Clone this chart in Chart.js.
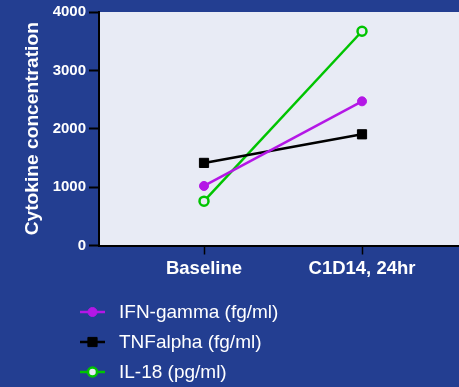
<!DOCTYPE html>
<html>
<head>
<meta charset="utf-8">
<script src="https://cdn.jsdelivr.net/npm/chart.js@4/dist/chart.umd.min.js"></script>
<style>
  html, body { margin: 0; padding: 0; background: #233e91; }
  #wrap { width: 459px; height: 387px; }
</style>
</head>
<body>
<div id="wrap"><canvas id="c" width="459" height="387"></canvas></div>
<script>
// Time points and cytokine levels
const categories = ['Baseline', 'C1D14, 24hr'];
const ifnGamma = [1020, 2470];
const tnfAlpha = [1415, 1905];
const il18 = [760, 3670];
const yTicks = [0, 1000, 2000, 3000, 4000];

const FONT = '"Liberation Sans", Arial, Helvetica, sans-serif';
const BG = '#233e91';
const PLOT_BG = '#e8ebf5';

const toPoints = vals => vals.map((v, i) => ({ x: i, y: v }));

// Page and plot-area backgrounds
const backgrounds = {
  id: 'backgrounds',
  beforeDraw(chart) {
    const { ctx, chartArea: a } = chart;
    ctx.save();
    ctx.fillStyle = BG;
    ctx.fillRect(0, 0, chart.width, chart.height);
    ctx.fillStyle = PLOT_BG;
    ctx.fillRect(a.left, a.top, a.right - a.left, a.bottom - a.top);
    ctx.restore();
  }
};

// Vertical legend list under the axis
const listLegend = {
  id: 'listLegend',
  afterDraw(chart) {
    const { ctx } = chart;
    const rows = [312, 342, 372];
    ctx.save();
    chart.data.datasets.forEach((ds, i) => {
      const y = rows[i];
      ctx.strokeStyle = ds.borderColor;
      ctx.lineWidth = 2.5;
      ctx.beginPath();
      ctx.moveTo(80, y);
      ctx.lineTo(105, y);
      ctx.stroke();
      ctx.fillStyle = ds.pointBackgroundColor;
      ctx.strokeStyle = ds.pointBorderColor;
      ctx.lineWidth = ds.pointBorderWidth;
      Chart.helpers.drawPoint(ctx, {
        pointStyle: ds.pointStyle,
        radius: ds.pointRadius,
        borderWidth: ds.pointBorderWidth
      }, 92.5, y);
      ctx.fillStyle = '#ffffff';
      ctx.font = '19px ' + FONT;
      ctx.textBaseline = 'middle';
      ctx.textAlign = 'left';
      ctx.fillText(ds.label, 119, y + 1);
    });
    ctx.restore();
  }
};

new Chart(document.getElementById('c'), {
  type: 'line',
  data: {
    datasets: [
      {
        label: 'IFN-gamma (fg/ml)',
        data: toPoints(ifnGamma),
        borderColor: '#b417e6',
        borderWidth: 2.5,
        pointStyle: 'circle',
        pointRadius: 4.5,
        pointBackgroundColor: '#b417e6',
        pointBorderColor: '#b417e6',
        pointBorderWidth: 1
      },
      {
        label: 'TNFalpha (fg/ml)',
        data: toPoints(tnfAlpha),
        borderColor: '#000000',
        borderWidth: 2.5,
        pointStyle: 'rect',
        pointRadius: 6.5,
        pointBackgroundColor: '#000000',
        pointBorderColor: '#000000',
        pointBorderWidth: 1
      },
      {
        label: 'IL-18 (pg/ml)',
        data: toPoints(il18),
        borderColor: '#00c400',
        borderWidth: 2.5,
        pointStyle: 'circle',
        pointRadius: 4.5,
        pointBackgroundColor: PLOT_BG,
        pointBorderColor: '#00c400',
        pointBorderWidth: 2.5
      }
    ]
  },
  options: {
    responsive: false,
    animation: false,
    devicePixelRatio: 1,
    layout: {
      autoPadding: false,
      padding: { left: 0, right: 0, top: 11, bottom: 101.5 }
    },
    plugins: {
      legend: { display: false },
      tooltip: { enabled: false }
    },
    scales: {
      x: {
        type: 'linear',
        min: -0.6646,
        max: 1.6139,
        afterBuildTicks(scale) {
          scale.ticks = categories.map((_, i) => ({ value: i }));
        },
        afterFit(scale) {
          scale.height = 40;
          scale.paddingLeft = 0;
          scale.paddingRight = 0;
        },
        ticks: {
          callback: v => categories[v],
          color: '#ffffff',
          font: { family: FONT, size: 18.5, weight: 'bold' },
          padding: 3,
          maxRotation: 0
        },
        grid: {
          drawOnChartArea: false,
          drawTicks: true,
          tickLength: 9,
          tickColor: '#000000',
          tickWidth: 1.5
        },
        border: { display: true, color: '#000000', width: 2 }
      },
      y: {
        min: 0,
        max: 4000,
        afterBuildTicks(scale) {
          scale.ticks = yTicks.map(v => ({ value: v }));
        },
        afterFit(scale) { scale.width = 99; },
        ticks: {
          callback: v => String(v),
          color: '#ffffff',
          font: { family: FONT, size: 15, weight: 'bold' },
          padding: 3
        },
        grid: {
          drawOnChartArea: false,
          drawTicks: true,
          tickLength: 10,
          tickColor: '#000000',
          tickWidth: 2
        },
        border: { display: true, color: '#000000', width: 2 },
        title: {
          display: true,
          text: 'Cytokine concentration',
          color: '#ffffff',
          font: { family: FONT, size: 19.2, weight: 'bold' },
          padding: { top: 21.5, bottom: 0 }
        }
      }
    }
  },
  plugins: [backgrounds, listLegend]
});
</script>
</body>
</html>
